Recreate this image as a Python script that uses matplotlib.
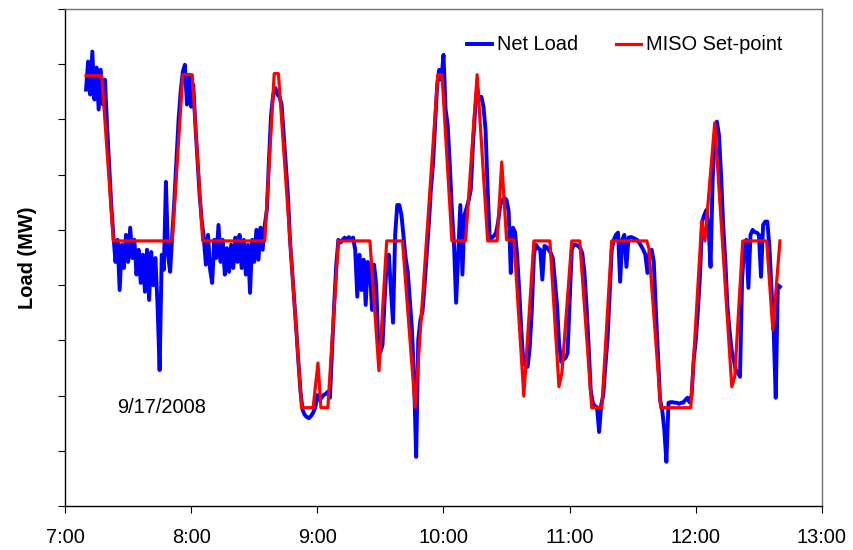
import numpy as np
import matplotlib
matplotlib.use("Agg")
import matplotlib.pyplot as plt

plt.rcParams['font.family'] = ['Liberation Sans', 'DejaVu Sans']

# net load, one reading per minute from 7:10 to 12:40 (minutes after 7:00)
load_start = 10
net_load = [
    754, 805, 745, 823, 736, 794, 718, 790, 727, 772,  # 7:10
    690, 618, 545, 491, 442, 482, 391, 473, 431, 491,  # 7:20
    442, 504, 449, 482, 419, 464, 404, 455, 388, 464,  # 7:30
    373, 460, 400, 449, 364, 246, 455, 428, 587, 455,  # 7:40
    424, 491, 554, 627, 699, 750, 786, 799, 727, 781,  # 7:50
    723, 763, 690, 627, 564, 518, 486, 437, 491, 428,  # 8:00
    404, 482, 449, 509, 442, 482, 419, 467, 424, 473,  # 8:10
    431, 486, 442, 491, 431, 482, 419, 473, 386, 482,  # 8:20
    442, 500, 446, 504, 464, 509, 536, 627, 708, 745,  # 8:30
    757, 745, 741, 727, 672, 618, 564, 482, 428, 373,  # 8:40
    319, 261, 207, 174, 165, 161, 159, 163, 169, 178,  # 8:50
    201, 192, 196, 201, 203, 207, 196, 283, 364, 437,  # 9:00
    482, 477, 482, 486, 482, 487, 482, 486, 464, 379,  # 9:10
    455, 391, 446, 364, 442, 431, 355, 437, 400, 292,  # 9:20
    279, 292, 373, 442, 455, 391, 332, 491, 545, 545,  # 9:30
    527, 487, 449, 424, 373, 319, 228, 89, 301, 337,   # 9:40
    352, 400, 455, 509, 573, 618, 690, 763, 790, 772,  # 9:50
    817, 718, 690, 618, 536, 473, 368, 455, 545, 419,  # 10:00
    527, 540, 554, 573, 654, 714, 757, 736, 741, 723,  # 10:10
    681, 573, 482, 486, 489, 495, 515, 545, 554, 558,  # 10:20
    554, 533, 422, 504, 496, 455, 391, 319, 259, 255,  # 10:30
    252, 286, 355, 455, 473, 467, 464, 410, 471, 469,  # 10:40
    464, 458, 449, 406, 364, 292, 261, 265, 268, 277,  # 10:50
    373, 464, 473, 473, 471, 467, 458, 424, 364, 292,  # 11:00
    210, 187, 181, 179, 134, 183, 201, 255, 301, 382,  # 11:10
    464, 482, 491, 495, 406, 482, 491, 433, 486, 487,  # 11:20
    486, 484, 482, 477, 471, 464, 455, 422, 460, 464,  # 11:30
    442, 355, 274, 192, 174, 138, 80, 187, 188, 188,   # 11:40
    187, 187, 185, 187, 187, 192, 196, 188, 201, 265,  # 11:50
    301, 355, 419, 515, 527, 536, 509, 433, 591, 672,  # 12:00
    696, 672, 600, 509, 446, 364, 319, 283, 265, 246,  # 12:10
    241, 234, 410, 469, 482, 395, 491, 500, 496, 495,  # 12:20
    491, 415, 509, 515, 515, 469, 391, 319, 196, 400,  # 12:30
    397,                                               # 12:40
]
load_minutes = np.arange(load_start, load_start + len(net_load))

# MISO set-point corners
sp_minutes = [10, 17.5, 23, 51, 56, 60.5, 65.5, 95, 99.5, 101.5, 112.5, 118,
              120.3, 121.7, 125, 130, 145, 149.3, 153, 160.5, 166.5, 177.3,
              179.3, 184, 190.5, 196, 201, 205.5, 207.7, 210, 213.5, 218.2,
              223, 230.6, 234.9, 236.3, 241, 244.8, 250.5, 255.3, 260, 276.7,
              277.7, 283.3, 297.6, 302.8, 304.3, 309, 317.1, 318.5, 322.3,
              333.7, 336.6, 340]
sp_load = [779, 779, 480, 480, 781, 781, 480, 480, 783, 783, 178, 178,
           259, 178, 178, 480, 480, 245, 480, 480, 179, 781,
           781, 480, 480, 781, 480, 480, 623, 482, 482, 199,
           480, 480, 216, 241, 480, 480, 178, 178, 480, 480,
           466, 178, 178, 516, 480, 694, 216, 234, 480,
           480, 319, 480]

hour_ticks = [0, 60, 120, 180, 240, 300, 360]
hour_labels = ['7:00', '8:00', '9:00', '10:00', '11:00', '12:00', '13:00']

fig = plt.figure(figsize=(8.54, 5.5), dpi=100)
ax = fig.add_axes([65 / 854, 44 / 550, 757 / 854, 497 / 550])

ax.plot(load_minutes, net_load, color='#0000FF', lw=2.8, label='Net Load')
ax.plot(sp_minutes, sp_load, color='#FF0000', lw=2.3, label='MISO Set-point')

ax.set_xlim(0, 360)
ax.set_ylim(0, 900)
ax.set_xticks(hour_ticks)
ax.set_xticklabels(hour_labels, fontsize=14.4)
ax.set_yticks(np.arange(0, 901, 100))
ax.set_yticklabels([])
ax.tick_params(direction='out', length=5, width=0.8, color='black')
ax.tick_params(axis='x', pad=11)
ax.set_ylabel('Load (MW)', fontsize=14.4, fontweight='bold')
ax.yaxis.set_label_coords(-0.037, 0.5)

for side in ['left', 'bottom']:
    ax.spines[side].set_color('black')
    ax.spines[side].set_linewidth(1.0)
for side in ['top', 'right']:
    ax.spines[side].set_color('#707070')
    ax.spines[side].set_linewidth(1.0)

ax.text(25, 179, '9/17/2008', fontsize=14.4, va='center', ha='left')

fig.legend(loc='center left', bbox_to_anchor=(467 / 854, 1 - 45 / 550),
           ncol=2, frameon=False, fontsize=14.4, borderpad=0, borderaxespad=0,
           handlelength=1.25, handletextpad=0.25, columnspacing=1.9)

fig.savefig('out.png', dpi=100)
